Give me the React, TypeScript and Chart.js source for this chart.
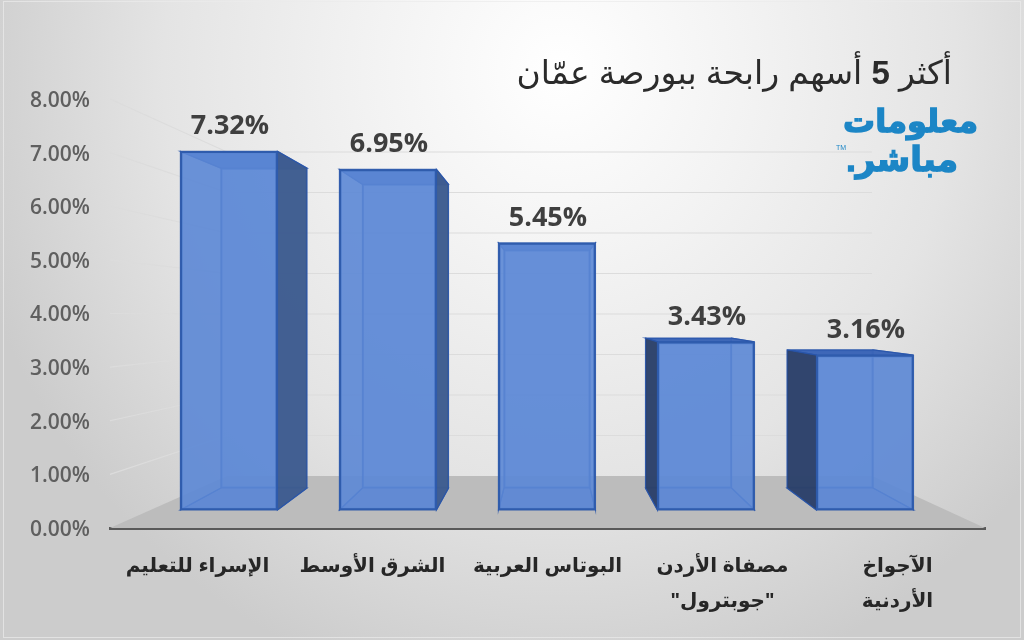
import React, { useEffect, useRef } from "react";
import { Chart, registerables } from "chart.js";

Chart.register(...registerables);

const categories: (string | string[])[] = [
  "الإسراء للتعليم",
  "الشرق الأوسط",
  "البوتاس العربية",
  ["مصفاة الأردن", '"جوبترول"'],
  ["الآجواخ", "الأردنية"],
];
const gains = [7.32, 6.95, 5.45, 3.43, 3.16];
const positions = [0, 1, 2, 3, 4];
const gridValues = [0, 1, 2, 3, 4, 5, 6, 7, 8];
const titleRuns = ["أكثر ", "5", " أسهم رابحة ببورصة عمّان"];
const logoLines = ["معلومات", "مباشر."];

const pct = (v: number) => v.toFixed(2) + "%";
const ARABIC = '"Liberation Sans","DejaVu Sans",sans-serif';

const scene = {
  id: "scene",
  beforeDraw(chart: any) {
    const { ctx, width, height } = chart;
    ctx.save();
    ctx.fillStyle = "#d2d2d2";
    ctx.fillRect(0, 0, width, height);
    ctx.translate(560, 70);
    ctx.scale(1, 1.05);
    const g = ctx.createRadialGradient(0, 0, 0, 0, 0, 610);
    g.addColorStop(0, "#ffffff");
    g.addColorStop(0.3, "#f3f3f3");
    g.addColorStop(0.65, "#e4e4e4");
    g.addColorStop(1, "#cccccc");
    ctx.fillStyle = g;
    ctx.fillRect(-700, -200, 1400, 800);
    ctx.restore();
    ctx.save();
    ctx.strokeStyle = "rgba(235,235,235,0.7)";
    ctx.lineWidth = 1;
    ctx.strokeRect(3.5, 1.5, width - 7, height - 4);
    ctx.restore();
  },
  beforeDatasetsDraw(chart: any) {
    const { ctx, chartArea, scales } = chart;
    const { y, yWall, xWall } = scales;
    const wl = xWall.getPixelForValue(0);
    const wr = xWall.getPixelForValue(5);
    ctx.save();
    ctx.fillStyle = "#bcbcbc";
    ctx.beginPath();
    ctx.moveTo(chartArea.left, y.getPixelForValue(0));
    ctx.lineTo(chartArea.right, y.getPixelForValue(0));
    ctx.lineTo(wr, yWall.getPixelForValue(0));
    ctx.lineTo(wl, yWall.getPixelForValue(0));
    ctx.closePath();
    ctx.fill();
    ctx.strokeStyle = "#dcdcdc";
    ctx.lineWidth = 1.2;
    gridValues.slice(1).forEach((v) => {
      ctx.beginPath();
      ctx.moveTo(chartArea.left, y.getPixelForValue(v));
      ctx.lineTo(wl, yWall.getPixelForValue(v));
      ctx.lineTo(wr, yWall.getPixelForValue(v));
      ctx.stroke();
    });
    ctx.restore();
  },
  afterDatasetDraw(chart: any, args: any) {
    if (args.index !== 0) return;
    const { ctx } = chart;
    const backs = chart.getDatasetMeta(0).data;
    const fronts = chart.getDatasetMeta(1).data;
    const poly = (pts: number[][], fill: string) => {
      ctx.fillStyle = fill;
      ctx.beginPath();
      pts.forEach((p, i) => (i ? ctx.lineTo(p[0], p[1]) : ctx.moveTo(p[0], p[1])));
      ctx.closePath();
      ctx.fill();
      ctx.strokeStyle = "rgba(40,85,170,0.85)";
      ctx.lineWidth = 1.2;
      ctx.stroke();
    };
    ctx.save();
    backs.forEach((b: any, i: number) => {
      const f = fronts[i];
      const bl = b.x - b.width / 2, br = b.x + b.width / 2;
      const fl = f.x - f.width / 2, fr = f.x + f.width / 2;
      poly([[fl, f.base], [fr, f.base], [br, b.base], [bl, b.base]], "rgba(60,100,180,0.55)");
      const leftFace = [[fl, f.y], [bl, b.y], [bl, b.base], [fl, f.base]];
      const rightFace = [[fr, f.y], [br, b.y], [br, b.base], [fr, f.base]];
      const topFace = [[fl, f.y], [fr, f.y], [br, b.y], [bl, b.y]];
      if (bl >= fl) poly(leftFace, "rgba(60,100,180,0.4)");
      if (br <= fr) poly(rightFace, "rgba(60,100,180,0.4)");
      poly(topFace, "rgba(58,100,182,0.95)");
      if (bl < fl) poly(leftFace, "rgba(44,64,104,0.95)");
      if (br > fr) poly(rightFace, "rgba(62,92,142,0.95)");
    });
    ctx.restore();
  },
  afterDatasetsDraw(chart: any) {
    const { ctx } = chart;
    ctx.save();
    // value labels
    ctx.font = 'bold 27px "Open Sans",sans-serif';
    ctx.fillStyle = "#3f3f3f";
    ctx.textAlign = "center";
    ctx.textBaseline = "middle";
    chart.getDatasetMeta(1).data.forEach((f: any, i: number) => {
      ctx.fillText(pct(gains[i]), f.x + 1, f.y - 25);
    });
    // title, right to left
    ctx.direction = "rtl";
    ctx.textAlign = "right";
    ctx.textBaseline = "alphabetic";
    ctx.fillStyle = "#2b2b2b";
    let x = 952;
    titleRuns.forEach((run, i) => {
      ctx.font = (i === 1 ? "bold " : "") + "33px " + ARABIC;
      ctx.fillText(run, x, 84);
      x -= ctx.measureText(run).width;
    });
    // logo
    ctx.fillStyle = "#1c86c6";
    ctx.strokeStyle = "#1c86c6";
    ctx.lineWidth = 1.4;
    ctx.font = "bold 32px " + ARABIC;
    ctx.fillText(logoLines[0], 978, 132);
    ctx.strokeText(logoLines[0], 978, 132);
    ctx.font = "bold 34px " + ARABIC;
    ctx.fillText(logoLines[1], 958, 171);
    ctx.strokeText(logoLines[1], 958, 171);
    ctx.direction = "ltr";
    ctx.font = "7px " + ARABIC;
    ctx.fillText("TM", 846, 150);
    ctx.restore();
  },
};

export default function App() {
  const ref = useRef<HTMLCanvasElement>(null);
  useEffect(() => {
    const hidden = (axis: string, min: number, max: number) => ({
      type: "linear",
      axis,
      display: false,
      bounds: "data",
      offset: false,
      min,
      max,
    });
    const chart = new Chart(ref.current!, {
      type: "bar",
      data: {
        labels: categories as any,
        datasets: [
          {
            label: "back",
            grouped: false,
            data: positions.map((p, i) => ({ x: p, y: gains[i] })) as any,
            xAxisID: "xBack",
            yAxisID: "yBack",
            barThickness: 86,
            backgroundColor: "rgba(78,120,200,0.6)",
            borderColor: "rgba(40,85,170,0.85)",
            borderWidth: 1.2,
            borderSkipped: false,
            order: 2,
          },
          {
            label: "أكثر 5 أسهم رابحة",
            grouped: false,
            data: positions.map((p, i) => ({ x: p, y: gains[i] })) as any,
            xAxisID: "xFront",
            yAxisID: "yFront",
            barThickness: 97,
            backgroundColor: "rgba(94,138,216,0.84)",
            borderColor: "#2f5cad",
            borderWidth: 2,
            borderSkipped: false,
            order: 1,
          },
        ],
      },
      options: {
        responsive: false,
        animation: false,
        layout: { autoPadding: false, padding: { top: 99, right: 39, left: 0, bottom: 0 } },
        plugins: { legend: { display: false }, title: { display: false }, tooltip: { enabled: false } },
        scales: {
          x: {
            type: "category",
            offset: true,
            grid: { display: false },
            border: { display: true, color: "#595959", width: 3 },
            afterFit: (s: any) => { s.height = 112; },
            ticks: {
              autoSkip: false,
              maxRotation: 0,
              minRotation: 0,
              padding: 13,
              color: "#262626",
              font: { family: ARABIC, size: 20, weight: "bold", lineHeight: 1.75 },
            },
          },
          y: {
            type: "linear",
            position: "left",
            min: 0,
            max: 8,
            grid: { display: false },
            border: { display: false },
            afterFit: (s: any) => { s.width = 110; },
            ticks: {
              stepSize: 1,
              padding: 12,
              labelOffset: 2,
              color: "#5f5f5f",
              font: { family: '"Open Sans",sans-serif', size: 21, weight: "600" },
              callback: (v: any) => pct(Number(v)),
            },
          },
          // depth planes of the 3-D box: front of bars, back of bars, back wall
          xFront: hidden("x", -0.748, 4.755),
          yFront: hidden("y", -0.367, 8.388),
          xBack: hidden("x", -1.088, 5.095),
          yBack: hidden("y", -0.915, 8.902),
          xWall: hidden("x", -0.907, 5.876),
          yWall: hidden("y", -1.284, 9.309),
        } as any,
      },
      plugins: [scene as any],
    });
    return () => chart.destroy();
  }, []);
  return (
    <div style={{ position: "fixed", left: 0, top: 0, width: 1024, height: 640 }}>
      <canvas ref={ref} width={1024} height={640} style={{ display: "block" }} />
    </div>
  );
}
